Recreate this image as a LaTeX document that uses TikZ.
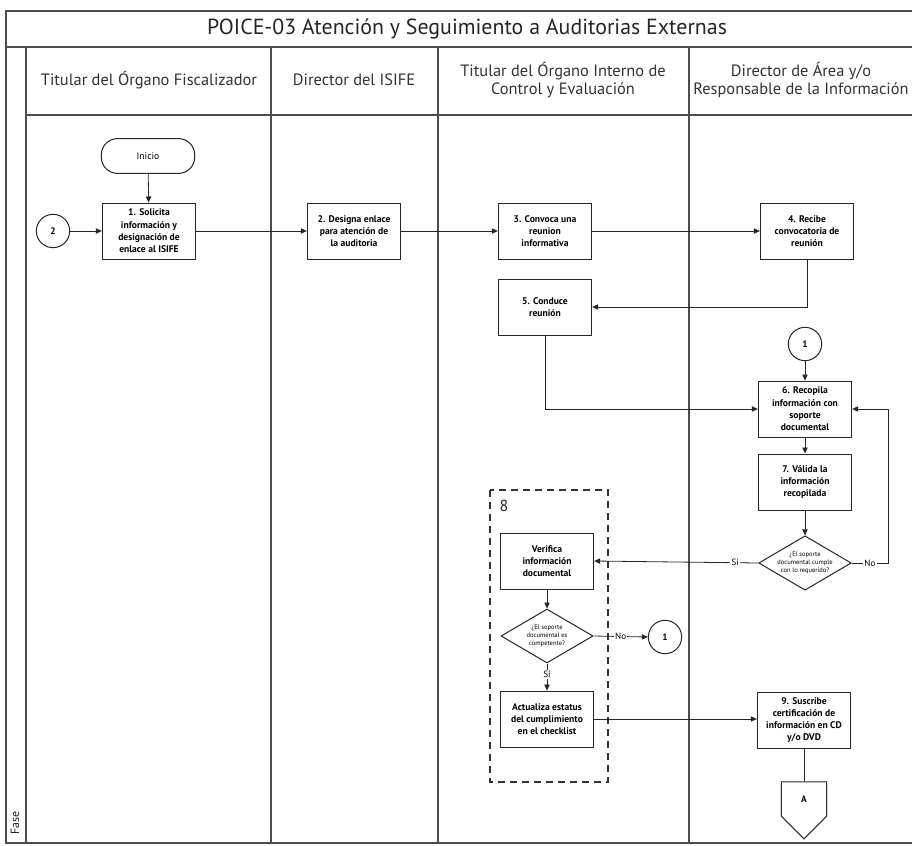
\documentclass[tikz,border=0pt]{standalone}
\usepackage{fontspec}
\setmainfont{PT Sans}
\usetikzlibrary{arrows.meta,shapes.geometric,shapes.symbols}
\begin{document}
\begin{tikzpicture}[x=0.75pt,y=-0.75pt,
  rule/.style={draw=black!70, line width=0.8pt},
  proc/.style={draw=black!85, line width=0.75pt, rectangle, align=center,
    minimum width=70pt, minimum height=42pt, inner sep=1pt,
    font=\fontsize{7.2}{9.2}\selectfont\bfseries},
  term/.style={draw=black!85, line width=0.75pt, rounded corners=12pt,
    minimum width=70pt, minimum height=26pt,
    font=\fontsize{7.2}{8}\selectfont},
  conn/.style={draw=black!85, line width=0.75pt, circle, minimum size=25pt,
    inner sep=0pt, font=\fontsize{7}{8}\selectfont\bfseries},
  dec/.style={draw=black!85, line width=0.75pt, diamond, aspect=1.7,
    minimum width=69pt, minimum height=40.5pt, inner sep=0pt, align=center,
    font=\fontsize{4.9}{6}\selectfont},
  offpage/.style={draw=black!85, line width=0.75pt, signal, signal to=south,
    minimum width=34pt, minimum height=28pt, inner sep=0pt,
    font=\fontsize{7}{8}\selectfont\bfseries},
  flow/.style={draw=black!85, line width=0.6pt,
    -{Triangle[length=4.5pt,width=4pt]}},
  plain/.style={draw=black!85, line width=0.6pt},
  lbl/.style={fill=white, inner sep=1pt, font=\fontsize{6.8}{8}\selectfont},
  grp/.style={draw=black!80, line width=0.8pt, dash pattern=on 5.5pt off 3.5pt},
  head/.style={text=black!80, align=center, font=\fontsize{12.3}{14}\selectfont}
]
\useasboundingbox (0,0) rectangle (912,845);
\fill[white] (0,0) rectangle (912,845);

% swimlane frame
\draw[rule] (6,11) rectangle (940,843);
\draw[rule] (6,47) -- (940,47);
\draw[rule] (26,47) -- (26,843);
\draw[rule] (26,115) -- (940,115);
\draw[rule] (271,47) -- (271,843);
\draw[rule] (438,47) -- (438,843);
\draw[rule] (689,47) -- (689,843);

% title and lane headers
\node[text=black!85, font=\fontsize{16.4}{18}\selectfont] (title) at (467,29)
  {POICE-03 Atención y Seguimiento a Auditorias Externas};
\node[head] (h1) at (149,80) {Titular del Órgano Fiscalizador};
\node[head] (h2) at (354,80) {Director del ISIFE};
\node[head] (h3) at (563,80) {Titular del Órgano Interno de\\Control y Evaluación};
\node[head] (h4) at (801,80) {Director de Área y/o\\Responsable de la Información};
\node[rotate=90, text=black!85, font=\fontsize{9}{10}\selectfont] (fase) at (15,823) {Fase};

% steps
\node[term] (inicio) at (148,156) {Inicio};
\node[proc] (s1) at (149,231) {1. Solicita\\información y\\designación de\\enlace al ISIFE};
\node[conn] (c2) at (53,231) {2};
\node[proc] (s2) at (354,231) {2. Designa enlace\\para atención de\\la auditoria};
\node[proc] (s3) at (545,231) {3. Convoca una\\reunion\\informativa};
\node[proc] (s4) at (807,231) {4. Recibe\\convocatoria de\\reunión};
\node[proc] (s5) at (545,307) {5. Conduce\\reunión};
\node[conn] (c1a) at (805,344) {1};
\node[proc] (s6) at (805,409) {6. Recopila\\información con\\soporte\\documental};
\node[proc] (s7) at (805,482) {7. Válida la\\información\\recopilada};
\node[dec] (d7) at (805,563) {¿El soporte\\documental cumple\\con lo requerido?};
\coordinate (noturn) at (888,563);

% activity 8 group
\draw[grp] (490,490) rectangle (608,782);
\node[font=\fontsize{12}{14}\selectfont, text=black!85] (g8) at (504,506) {8};
\node[proc] (s8a) at (547,561) {Verifica\\información\\documental};
\node[dec] (d8) at (547,636) {¿El soporte\\documental es\\competente?};
\node[conn] (c1b) at (665,637) {1};
\node[proc] (s8b) at (547,719) {Actualiza estatus\\del cumplimiento\\en el checklist};

\node[proc] (s9) at (804,720) {9. Suscribe\\certificación de\\información en CD\\y/o DVD};
\node[offpage] (offA) at (804,799) {A};

% connectors
\draw[flow] (inicio) -- (s1);
\draw[flow] (c2) -- (s1);
\draw[flow] (s1) -- (s2);
\draw[flow] (s2) -- (s3);
\draw[flow] (s3) -- (s4);
\draw[flow] (s4.south) |- (s5.east);
\draw[flow] (s5.south) |- (s6.west);
\draw[flow] (c1a) -- (s6);
\draw[flow] (s6) -- (s7);
\draw[flow] (s7) -- (d7);
\draw[flow] (d7.east) -- node[lbl] {No} (noturn) |- (s6.east);
\draw[flow] (d7.west) -- node[lbl, pos=0.14] {Si} (s8a.east);
\draw[flow] (s8a) -- (d8);
\draw[flow] (d8.east) -- node[lbl] {No} (c1b.west);
\draw[flow] (d8.south) -- node[lbl, pos=0.4] {Sí} (s8b.north);
\draw[flow] (s8b.east) -- (s8b.east -| s9.west);
\draw[plain] (s9.south) -- (offA.north);
\end{tikzpicture}
\end{document}
